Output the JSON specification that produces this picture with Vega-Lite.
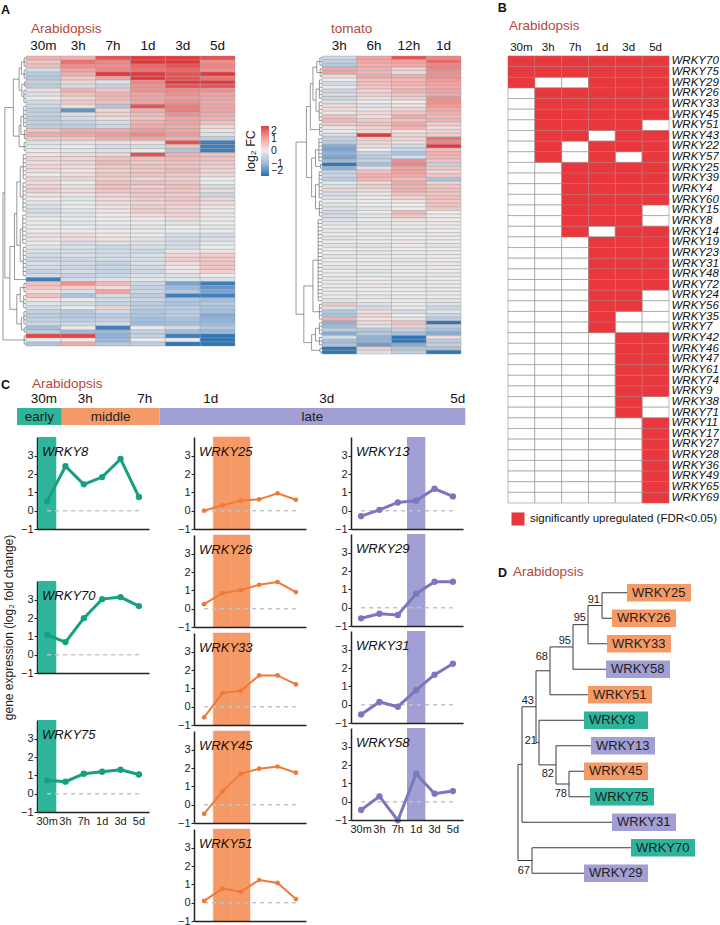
{
"$schema": "https://vega.github.io/schema/vega-lite/v6.json",
"padding": {"left": 1, "top": 2, "right": 0, "bottom": 0},
"config": {
  "font": "Liberation Sans",
  "view": {"stroke": null},
  "axis": {"labelColor": "#222", "titleColor": "#222", "domainColor": "#222", "tickColor": "#222", "grid": false, "titleFontWeight": "normal"},
  "title": {"color": "#111", "anchor": "start"}
},
"datasets": {
  "arab": [
    {"r":1,"lh":0.8,"30m":0.8,"3h":0.8,"7h":1.8,"1d":2.0,"3d":2.2,"5d":1.8},
    {"r":2,"lh":0.8,"30m":0.5,"3h":1.5,"7h":1.3,"1d":2.0,"3d":2.2,"5d":1.2},
    {"r":3,"lh":0.8,"30m":0.6,"3h":1.2,"7h":1.2,"1d":1.6,"3d":1.8,"5d":1.3},
    {"r":4,"lh":0.8,"30m":-0.3,"3h":1.0,"7h":1.3,"1d":1.5,"3d":1.6,"5d":1.2},
    {"r":5,"lh":0.8,"30m":-0.6,"3h":0.8,"7h":2.0,"1d":2.0,"3d":1.8,"5d":2.0},
    {"r":6,"lh":0.8,"30m":-0.7,"3h":0.5,"7h":1.0,"1d":2.0,"3d":1.8,"5d":1.5},
    {"r":7,"lh":0.6,"30m":-0.5,"3h":0.3,"7h":-0.2,"1d":1.3,"3d":2.0,"5d":2.0},
    {"r":8,"lh":0.6,"30m":-0.6,"3h":-0.3,"7h":-0.5,"1d":1.2,"3d":1.8,"5d":1.8},
    {"r":9,"lh":0.9,"30m":0.2,"3h":0.8,"7h":0.5,"1d":1.2,"3d":1.3,"5d":1.2},
    {"r":10,"lh":0.9,"30m":-0.2,"3h":0.6,"7h":0.8,"1d":1.0,"3d":1.2,"5d":1.0},
    {"r":11,"lh":0.9,"30m":0.0,"3h":0.3,"7h":0.7,"1d":1.0,"3d":1.1,"5d":1.0},
    {"r":12,"lh":0.9,"30m":-0.3,"3h":0.5,"7h":0.6,"1d":1.0,"3d":1.2,"5d":0.9},
    {"r":13,"lh":1.0,"30m":-0.4,"3h":0.2,"7h":-0.8,"1d":1.8,"3d":1.4,"5d":1.0},
    {"r":14,"lh":1.0,"30m":-0.6,"3h":-1.5,"7h":0.3,"1d":0.9,"3d":1.4,"5d":1.0},
    {"r":15,"lh":1.0,"30m":-0.5,"3h":-0.2,"7h":0.4,"1d":0.7,"3d":1.2,"5d":0.9},
    {"r":16,"lh":1.0,"30m":-0.6,"3h":-0.3,"7h":0.2,"1d":0.6,"3d":1.0,"5d":0.8},
    {"r":17,"lh":1.0,"30m":-0.5,"3h":-0.5,"7h":-0.3,"1d":0.8,"3d":1.0,"5d":0.6},
    {"r":18,"lh":1.0,"30m":-0.6,"3h":-0.6,"7h":-0.4,"1d":0.9,"3d":0.9,"5d":0.3},
    {"r":19,"lh":0.7,"30m":0.6,"3h":0.9,"7h":0.9,"1d":1.1,"3d":1.0,"5d":0.2},
    {"r":20,"lh":0.7,"30m":0.9,"3h":1.0,"7h":1.1,"1d":1.3,"3d":1.1,"5d":-0.2},
    {"r":21,"lh":0.7,"30m":0.5,"3h":0.6,"7h":0.9,"1d":1.0,"3d":0.8,"5d":-0.6},
    {"r":22,"lh":0.8,"30m":-0.2,"3h":0.2,"7h":0.2,"1d":0.2,"3d":1.8,"5d":-1.8},
    {"r":23,"lh":0.8,"30m":-0.1,"3h":0.0,"7h":-0.3,"1d":-0.3,"3d":0.6,"5d":-1.8},
    {"r":24,"lh":0.8,"30m":0.0,"3h":-0.1,"7h":-0.2,"1d":0.0,"3d":-0.8,"5d":-1.8},
    {"r":25,"lh":1.2,"30m":0.1,"3h":0.2,"7h":0.3,"1d":1.8,"3d":0.8,"5d":0.6},
    {"r":26,"lh":1.2,"30m":0.3,"3h":0.3,"7h":0.6,"1d":0.6,"3d":0.7,"5d":0.6},
    {"r":27,"lh":1.2,"30m":0.2,"3h":0.3,"7h":0.7,"1d":0.5,"3d":0.6,"5d":0.5},
    {"r":28,"lh":1.2,"30m":0.3,"3h":0.2,"7h":0.5,"1d":0.6,"3d":0.6,"5d":0.4},
    {"r":29,"lh":1.2,"30m":0.2,"3h":0.1,"7h":0.4,"1d":0.5,"3d":0.7,"5d":0.3},
    {"r":30,"lh":1.2,"30m":0.0,"3h":0.2,"7h":0.5,"1d":0.6,"3d":0.5,"5d":0.3},
    {"r":31,"lh":1.2,"30m":0.3,"3h":0.3,"7h":0.4,"1d":0.3,"3d":0.4,"5d":0.0},
    {"r":32,"lh":1.3,"30m":0.2,"3h":0.0,"7h":0.6,"1d":0.6,"3d":0.5,"5d":0.0},
    {"r":33,"lh":1.3,"30m":0.3,"3h":0.2,"7h":0.6,"1d":0.4,"3d":0.6,"5d":-0.3},
    {"r":34,"lh":1.3,"30m":0.4,"3h":0.2,"7h":0.5,"1d":0.5,"3d":0.5,"5d":0.2},
    {"r":35,"lh":1.3,"30m":0.1,"3h":0.1,"7h":0.3,"1d":0.5,"3d":0.4,"5d":-0.4},
    {"r":36,"lh":1.3,"30m":0.0,"3h":-0.1,"7h":0.2,"1d":0.4,"3d":0.5,"5d":0.3},
    {"r":37,"lh":1.3,"30m":-0.1,"3h":0.0,"7h":0.2,"1d":0.3,"3d":0.4,"5d":0.2},
    {"r":38,"lh":1.3,"30m":-0.2,"3h":0.0,"7h":0.1,"1d":0.4,"3d":0.3,"5d":0.1},
    {"r":39,"lh":1.3,"30m":-0.3,"3h":-0.1,"7h":0.1,"1d":0.4,"3d":0.3,"5d":0.0},
    {"r":40,"lh":1.4,"30m":-0.2,"3h":-0.1,"7h":0.0,"1d":0.2,"3d":0.3,"5d":0.1},
    {"r":41,"lh":1.4,"30m":0.0,"3h":0.0,"7h":0.0,"1d":0.0,"3d":0.2,"5d":0.0},
    {"r":42,"lh":1.4,"30m":0.0,"3h":-0.1,"7h":0.0,"1d":0.0,"3d":-0.1,"5d":0.0},
    {"r":43,"lh":1.4,"30m":0.0,"3h":0.0,"7h":-0.1,"1d":-0.1,"3d":0.0,"5d":-0.1},
    {"r":44,"lh":1.4,"30m":0.0,"3h":0.0,"7h":0.0,"1d":0.0,"3d":0.0,"5d":0.0},
    {"r":45,"lh":1.4,"30m":0.2,"3h":0.2,"7h":0.1,"1d":0.0,"3d":-0.3,"5d":-0.3},
    {"r":46,"lh":1.4,"30m":0.1,"3h":0.2,"7h":0.1,"1d":-0.1,"3d":-0.3,"5d":-0.2},
    {"r":47,"lh":1.4,"30m":0.0,"3h":-0.3,"7h":-0.2,"1d":-0.2,"3d":-0.3,"5d":-0.1},
    {"r":48,"lh":1.2,"30m":-0.1,"3h":-0.2,"7h":-0.4,"1d":-0.2,"3d":-0.3,"5d":0.0},
    {"r":49,"lh":1.2,"30m":-0.2,"3h":-0.3,"7h":-0.3,"1d":-0.4,"3d":0.1,"5d":0.1},
    {"r":50,"lh":1.2,"30m":-0.3,"3h":-0.2,"7h":-0.3,"1d":-0.2,"3d":0.3,"5d":0.4},
    {"r":51,"lh":1.2,"30m":-0.4,"3h":-0.4,"7h":-0.3,"1d":-0.3,"3d":0.4,"5d":0.5},
    {"r":52,"lh":1.2,"30m":-0.2,"3h":-0.3,"7h":-0.5,"1d":-0.2,"3d":0.2,"5d":0.5},
    {"r":53,"lh":1.2,"30m":-0.3,"3h":-0.4,"7h":-0.4,"1d":-0.3,"3d":0.0,"5d":0.5},
    {"r":54,"lh":1.2,"30m":-0.5,"3h":-0.3,"7h":-0.5,"1d":-0.4,"3d":0.1,"5d":0.4},
    {"r":55,"lh":1.2,"30m":-0.3,"3h":-0.5,"7h":-0.4,"1d":-0.2,"3d":-0.2,"5d":0.0},
    {"r":56,"lh":0,"30m":-1.8,"3h":-0.3,"7h":-0.2,"1d":-0.1,"3d":-0.1,"5d":-0.2},
    {"r":57,"lh":0.9,"30m":0.6,"3h":1.2,"7h":0.7,"1d":-0.4,"3d":-1.3,"5d":-1.8},
    {"r":58,"lh":0.9,"30m":0.5,"3h":0.4,"7h":0.2,"1d":-0.5,"3d":-1.0,"5d":-1.5},
    {"r":59,"lh":0.9,"30m":0.1,"3h":-0.2,"7h":1.0,"1d":-0.4,"3d":-0.7,"5d":-1.3},
    {"r":60,"lh":1.0,"30m":0.6,"3h":-0.8,"7h":-0.3,"1d":-0.6,"3d":-1.8,"5d":-1.8},
    {"r":61,"lh":1.0,"30m":0.1,"3h":0.0,"7h":-0.3,"1d":-0.4,"3d":-0.7,"5d":-0.9},
    {"r":62,"lh":1.0,"30m":-0.1,"3h":-0.3,"7h":-0.5,"1d":-0.6,"3d":-0.8,"5d":-0.7},
    {"r":63,"lh":1.0,"30m":-0.3,"3h":0.0,"7h":0.3,"1d":-0.6,"3d":-0.6,"5d":-0.8},
    {"r":64,"lh":0.9,"30m":-0.5,"3h":-0.7,"7h":-0.3,"1d":-0.7,"3d":-0.6,"5d":-0.9},
    {"r":65,"lh":0.9,"30m":-0.6,"3h":-0.7,"7h":-0.6,"1d":-0.8,"3d":-0.6,"5d":-1.2},
    {"r":66,"lh":0.9,"30m":-0.5,"3h":-0.6,"7h":-0.5,"1d":-0.9,"3d":-0.8,"5d":-1.1},
    {"r":67,"lh":0.9,"30m":-0.4,"3h":-0.4,"7h":-0.3,"1d":-1.0,"3d":-0.9,"5d":-1.0},
    {"r":68,"lh":0.8,"30m":-0.9,"3h":0.0,"7h":-1.8,"1d":0.0,"3d":-0.3,"5d":-0.7},
    {"r":69,"lh":0.8,"30m":-0.6,"3h":-1.0,"7h":-1.0,"1d":-0.5,"3d":-0.9,"5d":-1.0},
    {"r":70,"lh":0.8,"30m":1.9,"3h":1.9,"7h":-1.1,"1d":-0.5,"3d":-1.8,"5d":-1.9},
    {"r":71,"lh":0.8,"30m":0.0,"3h":0.0,"7h":-1.0,"1d":0.0,"3d":0.0,"5d":-1.9},
    {"r":72,"lh":0.8,"30m":-0.8,"3h":0.9,"7h":-0.7,"1d":-0.6,"3d":-1.9,"5d":-1.9}
  ],
  "arabTree": [
    {"h":0.8,"a":1,"b":3,"ha":0.8,"hb":0.8},
    {"h":0.8,"a":4,"b":6,"ha":0.8,"hb":0.8},
    {"h":0.6,"a":7,"b":8,"ha":0.6,"hb":0.6},
    {"h":0.9,"a":9,"b":12,"ha":0.9,"hb":0.9},
    {"h":1.0,"a":13,"b":18,"ha":1.0,"hb":1.0},
    {"h":0.7,"a":19,"b":21,"ha":0.7,"hb":0.7},
    {"h":0.8,"a":22,"b":24,"ha":0.8,"hb":0.8},
    {"h":1.2,"a":25,"b":31,"ha":1.2,"hb":1.2},
    {"h":1.3,"a":32,"b":39,"ha":1.3,"hb":1.3},
    {"h":1.4,"a":40,"b":47,"ha":1.4,"hb":1.4},
    {"h":1.2,"a":48,"b":55,"ha":1.2,"hb":1.2},
    {"h":0.9,"a":57,"b":59,"ha":0.9,"hb":0.9},
    {"h":1.0,"a":60,"b":63,"ha":1.0,"hb":1.0},
    {"h":0.9,"a":64,"b":67,"ha":0.9,"hb":0.9},
    {"h":0.8,"a":68,"b":69,"ha":0.8,"hb":0.8},
    {"h":0.8,"a":70,"b":72,"ha":0.8,"hb":0.8},
    {"h":2.0,"a":2,"b":5,"ha":0.8,"hb":0.8},
    {"h":1.8,"a":7.5,"b":10.5,"ha":0.6,"hb":0.9},
    {"h":3.0,"a":3.5,"b":9,"ha":2.0,"hb":1.8},
    {"h":2.2,"a":15.5,"b":20,"ha":1.0,"hb":0.7},
    {"h":3.0,"a":17.75,"b":23,"ha":2.2,"hb":0.8},
    {"h":5.5,"a":6.25,"b":20.4,"ha":3.0,"hb":3.0},
    {"h":2.5,"a":28,"b":35.5,"ha":1.2,"hb":1.3},
    {"h":2.5,"a":43.5,"b":51.5,"ha":1.4,"hb":1.2},
    {"h":4.0,"a":31.75,"b":47.5,"ha":2.5,"hb":2.5},
    {"h":5.0,"a":39.6,"b":56,"ha":4.0,"hb":0},
    {"h":2.5,"a":58,"b":61.5,"ha":0.9,"hb":1.0},
    {"h":2.0,"a":65.5,"b":68.5,"ha":0.9,"hb":0.8},
    {"h":4.0,"a":59.75,"b":67,"ha":2.5,"hb":2.0},
    {"h":7.0,"a":47.8,"b":63.4,"ha":5.0,"hb":4.0},
    {"h":9.2,"a":13.3,"b":55.6,"ha":5.5,"hb":7.0},
    {"h":10,"a":34.45,"b":71,"ha":9.2,"hb":0.8}
  ],
  "tom": [
    {"r":1,"lh":0.8,"3h":-0.4,"6h":1.0,"12h":1.8,"1d":1.3},
    {"r":2,"lh":0.8,"3h":-0.5,"6h":0.9,"12h":1.0,"1d":1.6},
    {"r":3,"lh":0.8,"3h":-0.7,"6h":0.8,"12h":0.9,"1d":1.3},
    {"r":4,"lh":0.7,"3h":0.9,"6h":0.8,"12h":0.4,"1d":1.3},
    {"r":5,"lh":0.7,"3h":1.0,"6h":0.7,"12h":0.2,"1d":1.2},
    {"r":6,"lh":0.7,"3h":0.2,"6h":0.9,"12h":0.8,"1d":1.2},
    {"r":7,"lh":1.0,"3h":0.0,"6h":0.6,"12h":0.7,"1d":1.1},
    {"r":8,"lh":1.0,"3h":-0.3,"6h":0.6,"12h":0.8,"1d":1.0},
    {"r":9,"lh":1.0,"3h":0.0,"6h":0.5,"12h":0.6,"1d":0.9},
    {"r":10,"lh":1.0,"3h":-0.4,"6h":0.3,"12h":0.8,"1d":1.0},
    {"r":11,"lh":1.0,"3h":-0.3,"6h":0.4,"12h":0.5,"1d":0.9},
    {"r":12,"lh":1.0,"3h":-0.4,"6h":0.2,"12h":0.4,"1d":1.2},
    {"r":13,"lh":1.1,"3h":-0.2,"6h":0.0,"12h":0.0,"1d":1.2},
    {"r":14,"lh":1.1,"3h":0.3,"6h":-0.2,"12h":0.2,"1d":1.1},
    {"r":15,"lh":1.1,"3h":0.2,"6h":0.1,"12h":0.3,"1d":0.9},
    {"r":16,"lh":1.1,"3h":0.1,"6h":0.3,"12h":0.5,"1d":0.8},
    {"r":17,"lh":1.1,"3h":0.6,"6h":0.2,"12h":0.9,"1d":0.7},
    {"r":18,"lh":1.1,"3h":0.7,"6h":0.4,"12h":0.6,"1d":0.8},
    {"r":19,"lh":0.9,"3h":0.5,"6h":0.6,"12h":0.9,"1d":0.4},
    {"r":20,"lh":0.9,"3h":0.1,"6h":0.3,"12h":0.8,"1d":0.2},
    {"r":21,"lh":0.9,"3h":0.0,"6h":0.2,"12h":0.1,"1d":0.3},
    {"r":22,"lh":0.9,"3h":-0.3,"6h":2.0,"12h":0.3,"1d":0.4},
    {"r":23,"lh":1.2,"3h":-0.5,"6h":0.4,"12h":0.3,"1d":1.5},
    {"r":24,"lh":1.2,"3h":-0.6,"6h":0.3,"12h":0.2,"1d":1.3},
    {"r":25,"lh":1.2,"3h":-1.2,"6h":0.2,"12h":-0.3,"1d":2.0},
    {"r":26,"lh":1.2,"3h":-1.3,"6h":0.0,"12h":-0.4,"1d":0.6},
    {"r":27,"lh":1.2,"3h":-1.1,"6h":-0.5,"12h":-0.8,"1d":0.8},
    {"r":28,"lh":1.2,"3h":-1.3,"6h":-0.6,"12h":-0.3,"1d":0.7},
    {"r":29,"lh":1.2,"3h":-1.0,"6h":-0.5,"12h":1.2,"1d":0.6},
    {"r":30,"lh":0.6,"3h":-1.9,"6h":-0.9,"12h":1.3,"1d":-0.5},
    {"r":31,"lh":0.6,"3h":-1.1,"6h":-0.2,"12h":1.0,"1d":0.5},
    {"r":32,"lh":1.1,"3h":-0.5,"6h":0.6,"12h":1.0,"1d":0.3},
    {"r":33,"lh":1.1,"3h":-0.4,"6h":0.8,"12h":0.9,"1d":0.5},
    {"r":34,"lh":1.1,"3h":-0.6,"6h":0.7,"12h":0.6,"1d":-0.8},
    {"r":35,"lh":1.1,"3h":-0.1,"6h":0.3,"12h":0.9,"1d":0.4},
    {"r":36,"lh":1.1,"3h":-0.2,"6h":0.4,"12h":0.8,"1d":0.5},
    {"r":37,"lh":1.1,"3h":0.3,"6h":0.2,"12h":0.8,"1d":0.6},
    {"r":38,"lh":1.1,"3h":-0.3,"6h":0.1,"12h":0.6,"1d":0.5},
    {"r":39,"lh":1.1,"3h":-0.2,"6h":0.0,"12h":0.3,"1d":0.6},
    {"r":40,"lh":1.0,"3h":0.0,"6h":0.0,"12h":0.1,"1d":0.5},
    {"r":41,"lh":1.0,"3h":-0.1,"6h":0.0,"12h":0.0,"1d":0.6},
    {"r":42,"lh":1.0,"3h":-0.2,"6h":-0.1,"12h":0.0,"1d":0.5},
    {"r":43,"lh":1.0,"3h":-0.4,"6h":0.0,"12h":0.7,"1d":0.0},
    {"r":44,"lh":1.0,"3h":-0.3,"6h":-0.1,"12h":0.5,"1d":0.0},
    {"r":45,"lh":1.5,"3h":-0.2,"6h":0.0,"12h":0.1,"1d":0.0},
    {"r":46,"lh":1.5,"3h":-0.1,"6h":-0.1,"12h":0.0,"1d":0.1},
    {"r":47,"lh":1.5,"3h":0.0,"6h":0.0,"12h":0.0,"1d":0.0},
    {"r":48,"lh":1.5,"3h":-0.1,"6h":0.0,"12h":-0.1,"1d":0.0},
    {"r":49,"lh":1.5,"3h":0.0,"6h":-0.1,"12h":0.0,"1d":0.1},
    {"r":50,"lh":1.5,"3h":-0.1,"6h":0.0,"12h":0.0,"1d":0.0},
    {"r":51,"lh":1.5,"3h":0.0,"6h":0.0,"12h":0.1,"1d":0.0},
    {"r":52,"lh":1.5,"3h":-0.1,"6h":-0.1,"12h":0.0,"1d":-0.1},
    {"r":53,"lh":1.5,"3h":0.0,"6h":0.0,"12h":0.0,"1d":0.0},
    {"r":54,"lh":1.5,"3h":0.0,"6h":0.1,"12h":0.0,"1d":0.0},
    {"r":55,"lh":1.5,"3h":-0.1,"6h":0.0,"12h":0.0,"1d":0.0},
    {"r":56,"lh":1.5,"3h":0.0,"6h":0.0,"12h":-0.1,"1d":0.0},
    {"r":57,"lh":1.5,"3h":0.0,"6h":0.0,"12h":0.0,"1d":0.1},
    {"r":58,"lh":1.5,"3h":-0.1,"6h":0.0,"12h":0.0,"1d":0.0},
    {"r":59,"lh":1.5,"3h":0.0,"6h":-0.1,"12h":0.0,"1d":0.0},
    {"r":60,"lh":1.5,"3h":0.0,"6h":0.0,"12h":0.0,"1d":-0.1},
    {"r":61,"lh":1.5,"3h":-0.1,"6h":0.0,"12h":0.1,"1d":0.0},
    {"r":62,"lh":1.5,"3h":0.0,"6h":0.0,"12h":0.0,"1d":0.0},
    {"r":63,"lh":1.5,"3h":0.0,"6h":0.1,"12h":0.0,"1d":0.0},
    {"r":64,"lh":1.5,"3h":-0.1,"6h":0.0,"12h":0.0,"1d":-0.1},
    {"r":65,"lh":1.5,"3h":0.0,"6h":0.0,"12h":0.0,"1d":0.0},
    {"r":66,"lh":1.5,"3h":0.0,"6h":-0.1,"12h":0.0,"1d":0.0},
    {"r":67,"lh":1.5,"3h":-0.1,"6h":0.0,"12h":0.0,"1d":-0.1},
    {"r":68,"lh":1.0,"3h":0.5,"6h":-0.2,"12h":0.0,"1d":-0.2},
    {"r":69,"lh":1.0,"3h":-0.2,"6h":-0.3,"12h":0.0,"1d":-0.4},
    {"r":70,"lh":1.0,"3h":-0.7,"6h":0.2,"12h":-0.3,"1d":-0.1},
    {"r":71,"lh":1.0,"3h":-0.8,"6h":0.3,"12h":0.0,"1d":-0.4},
    {"r":72,"lh":1.0,"3h":0.8,"6h":0.1,"12h":-0.1,"1d":-0.6},
    {"r":73,"lh":1.0,"3h":-1.1,"6h":0.3,"12h":0.6,"1d":-1.9},
    {"r":74,"lh":1.0,"3h":-1.0,"6h":-0.2,"12h":0.4,"1d":-0.6},
    {"r":75,"lh":1.0,"3h":-0.6,"6h":-0.7,"12h":-0.5,"1d":-0.9},
    {"r":76,"lh":1.0,"3h":-1.2,"6h":-0.7,"12h":-0.9,"1d":-1.2},
    {"r":77,"lh":1.0,"3h":-0.3,"6h":-1.1,"12h":-1.9,"1d":0.2},
    {"r":78,"lh":1.0,"3h":-0.9,"6h":-1.1,"12h":-1.9,"1d":-0.6},
    {"r":79,"lh":1.0,"3h":-0.8,"6h":-1.4,"12h":-1.2,"1d":-0.5},
    {"r":80,"lh":0.8,"3h":-1.9,"6h":0.4,"12h":-0.7,"1d":-0.8},
    {"r":81,"lh":0.8,"3h":-1.9,"6h":-0.2,"12h":-0.6,"1d":-1.9}
  ],
  "tomTree": [
    {"h":0.8,"a":1,"b":3,"ha":0.8,"hb":0.8},
    {"h":0.7,"a":4,"b":6,"ha":0.7,"hb":0.7},
    {"h":1.0,"a":7,"b":12,"ha":1.0,"hb":1.0},
    {"h":1.1,"a":13,"b":18,"ha":1.1,"hb":1.1},
    {"h":0.9,"a":19,"b":22,"ha":0.9,"hb":0.9},
    {"h":1.2,"a":23,"b":29,"ha":1.2,"hb":1.2},
    {"h":0.6,"a":30,"b":31,"ha":0.6,"hb":0.6},
    {"h":1.1,"a":32,"b":39,"ha":1.1,"hb":1.1},
    {"h":1.0,"a":40,"b":44,"ha":1.0,"hb":1.0},
    {"h":1.5,"a":45,"b":67,"ha":1.5,"hb":1.5},
    {"h":1.0,"a":68,"b":72,"ha":1.0,"hb":1.0},
    {"h":1.0,"a":73,"b":76,"ha":1.0,"hb":1.0},
    {"h":1.0,"a":77,"b":79,"ha":1.0,"hb":1.0},
    {"h":0.8,"a":80,"b":81,"ha":0.8,"hb":0.8},
    {"h":2.0,"a":2,"b":5,"ha":0.8,"hb":0.7},
    {"h":2.3,"a":9.5,"b":15.5,"ha":1.0,"hb":1.1},
    {"h":3.5,"a":3.5,"b":12.5,"ha":2.0,"hb":2.3},
    {"h":4.5,"a":8,"b":20.5,"ha":3.5,"hb":0.9},
    {"h":2.5,"a":26,"b":30.5,"ha":1.2,"hb":0.6},
    {"h":2.5,"a":35.5,"b":42,"ha":1.1,"hb":1.0},
    {"h":4.0,"a":28.25,"b":38.75,"ha":2.5,"hb":2.5},
    {"h":6.0,"a":14.25,"b":33.5,"ha":4.5,"hb":4.0},
    {"h":3.5,"a":56,"b":70,"ha":1.5,"hb":1.0},
    {"h":2.5,"a":74.5,"b":78,"ha":1.0,"hb":1.0},
    {"h":4.0,"a":76.25,"b":80.5,"ha":2.5,"hb":0.8},
    {"h":7.0,"a":63,"b":78.4,"ha":3.5,"hb":4.0},
    {"h":10,"a":23.9,"b":70.7,"ha":6.0,"hb":7.0}
  ],
  "sig": [
    {"g":"WRKY70","30m":1,"3h":1,"7h":1,"1d":1,"3d":1,"5d":1},
    {"g":"WRKY75","30m":1,"3h":1,"7h":1,"1d":1,"3d":1,"5d":1},
    {"g":"WRKY29","30m":1,"3h":0,"7h":0,"1d":1,"3d":1,"5d":1},
    {"g":"WRKY26","30m":0,"3h":1,"7h":1,"1d":1,"3d":1,"5d":1},
    {"g":"WRKY33","30m":0,"3h":1,"7h":1,"1d":1,"3d":1,"5d":1},
    {"g":"WRKY45","30m":0,"3h":1,"7h":1,"1d":1,"3d":1,"5d":1},
    {"g":"WRKY51","30m":0,"3h":1,"7h":1,"1d":1,"3d":1,"5d":0},
    {"g":"WRKY43","30m":0,"3h":1,"7h":1,"1d":0,"3d":1,"5d":1},
    {"g":"WRKY22","30m":0,"3h":1,"7h":0,"1d":1,"3d":1,"5d":1},
    {"g":"WRKY57","30m":0,"3h":1,"7h":0,"1d":1,"3d":0,"5d":1},
    {"g":"WRKY25","30m":0,"3h":0,"7h":1,"1d":1,"3d":1,"5d":1},
    {"g":"WRKY39","30m":0,"3h":0,"7h":1,"1d":1,"3d":1,"5d":1},
    {"g":"WRKY4","30m":0,"3h":0,"7h":1,"1d":1,"3d":1,"5d":1},
    {"g":"WRKY60","30m":0,"3h":0,"7h":1,"1d":1,"3d":1,"5d":1},
    {"g":"WRKY15","30m":0,"3h":0,"7h":1,"1d":1,"3d":1,"5d":0},
    {"g":"WRKY8","30m":0,"3h":0,"7h":1,"1d":1,"3d":1,"5d":0},
    {"g":"WRKY14","30m":0,"3h":0,"7h":1,"1d":0,"3d":1,"5d":1},
    {"g":"WRKY19","30m":0,"3h":0,"7h":0,"1d":1,"3d":1,"5d":1},
    {"g":"WRKY23","30m":0,"3h":0,"7h":0,"1d":1,"3d":1,"5d":1},
    {"g":"WRKY31","30m":0,"3h":0,"7h":0,"1d":1,"3d":1,"5d":1},
    {"g":"WRKY48","30m":0,"3h":0,"7h":0,"1d":1,"3d":1,"5d":1},
    {"g":"WRKY72","30m":0,"3h":0,"7h":0,"1d":1,"3d":1,"5d":1},
    {"g":"WRKY24","30m":0,"3h":0,"7h":0,"1d":1,"3d":1,"5d":0},
    {"g":"WRKY56","30m":0,"3h":0,"7h":0,"1d":1,"3d":1,"5d":0},
    {"g":"WRKY35","30m":0,"3h":0,"7h":0,"1d":1,"3d":0,"5d":0},
    {"g":"WRKY7","30m":0,"3h":0,"7h":0,"1d":1,"3d":0,"5d":0},
    {"g":"WRKY42","30m":0,"3h":0,"7h":0,"1d":0,"3d":1,"5d":1},
    {"g":"WRKY46","30m":0,"3h":0,"7h":0,"1d":0,"3d":1,"5d":1},
    {"g":"WRKY47","30m":0,"3h":0,"7h":0,"1d":0,"3d":1,"5d":1},
    {"g":"WRKY61","30m":0,"3h":0,"7h":0,"1d":0,"3d":1,"5d":1},
    {"g":"WRKY74","30m":0,"3h":0,"7h":0,"1d":0,"3d":1,"5d":1},
    {"g":"WRKY9","30m":0,"3h":0,"7h":0,"1d":0,"3d":1,"5d":1},
    {"g":"WRKY38","30m":0,"3h":0,"7h":0,"1d":0,"3d":1,"5d":0},
    {"g":"WRKY71","30m":0,"3h":0,"7h":0,"1d":0,"3d":1,"5d":0},
    {"g":"WRKY11","30m":0,"3h":0,"7h":0,"1d":0,"3d":0,"5d":1},
    {"g":"WRKY17","30m":0,"3h":0,"7h":0,"1d":0,"3d":0,"5d":1},
    {"g":"WRKY27","30m":0,"3h":0,"7h":0,"1d":0,"3d":0,"5d":1},
    {"g":"WRKY28","30m":0,"3h":0,"7h":0,"1d":0,"3d":0,"5d":1},
    {"g":"WRKY36","30m":0,"3h":0,"7h":0,"1d":0,"3d":0,"5d":1},
    {"g":"WRKY49","30m":0,"3h":0,"7h":0,"1d":0,"3d":0,"5d":1},
    {"g":"WRKY65","30m":0,"3h":0,"7h":0,"1d":0,"3d":0,"5d":1},
    {"g":"WRKY69","30m":0,"3h":0,"7h":0,"1d":0,"3d":0,"5d":1}
  ],
  "expr": [
    {"g":"WRKY8","t":"30m","v":0.51},{"g":"WRKY8","t":"3h","v":2.43},{"g":"WRKY8","t":"7h","v":1.44},{"g":"WRKY8","t":"1d","v":1.84},{"g":"WRKY8","t":"3d","v":2.83},{"g":"WRKY8","t":"5d","v":0.75},
    {"g":"WRKY70","t":"30m","v":1.08},{"g":"WRKY70","t":"3h","v":0.69},{"g":"WRKY70","t":"7h","v":2.0},{"g":"WRKY70","t":"1d","v":3.04},{"g":"WRKY70","t":"3d","v":3.15},{"g":"WRKY70","t":"5d","v":2.66},
    {"g":"WRKY75","t":"30m","v":0.73},{"g":"WRKY75","t":"3h","v":0.66},{"g":"WRKY75","t":"7h","v":1.09},{"g":"WRKY75","t":"1d","v":1.2},{"g":"WRKY75","t":"3d","v":1.31},{"g":"WRKY75","t":"5d","v":1.05},
    {"g":"WRKY25","t":"30m","v":0.0},{"g":"WRKY25","t":"3h","v":0.3},{"g":"WRKY25","t":"7h","v":0.55},{"g":"WRKY25","t":"1d","v":0.62},{"g":"WRKY25","t":"3d","v":0.95},{"g":"WRKY25","t":"5d","v":0.6},
    {"g":"WRKY26","t":"30m","v":0.25},{"g":"WRKY26","t":"3h","v":0.85},{"g":"WRKY26","t":"7h","v":1.02},{"g":"WRKY26","t":"1d","v":1.31},{"g":"WRKY26","t":"3d","v":1.46},{"g":"WRKY26","t":"5d","v":0.91},
    {"g":"WRKY33","t":"30m","v":-0.58},{"g":"WRKY33","t":"3h","v":0.75},{"g":"WRKY33","t":"7h","v":0.87},{"g":"WRKY33","t":"1d","v":1.71},{"g":"WRKY33","t":"3d","v":1.71},{"g":"WRKY33","t":"5d","v":1.22},
    {"g":"WRKY45","t":"30m","v":-0.5},{"g":"WRKY45","t":"3h","v":0.73},{"g":"WRKY45","t":"7h","v":1.69},{"g":"WRKY45","t":"1d","v":1.97},{"g":"WRKY45","t":"3d","v":2.09},{"g":"WRKY45","t":"5d","v":1.75},
    {"g":"WRKY51","t":"30m","v":0.1},{"g":"WRKY51","t":"3h","v":0.77},{"g":"WRKY51","t":"7h","v":0.6},{"g":"WRKY51","t":"1d","v":1.24},{"g":"WRKY51","t":"3d","v":1.08},{"g":"WRKY51","t":"5d","v":0.2},
    {"g":"WRKY13","t":"30m","v":-0.3},{"g":"WRKY13","t":"3h","v":0.05},{"g":"WRKY13","t":"7h","v":0.45},{"g":"WRKY13","t":"1d","v":0.55},{"g":"WRKY13","t":"3d","v":1.2},{"g":"WRKY13","t":"5d","v":0.78},
    {"g":"WRKY29","t":"30m","v":-0.58},{"g":"WRKY29","t":"3h","v":-0.33},{"g":"WRKY29","t":"7h","v":-0.4},{"g":"WRKY29","t":"1d","v":0.77},{"g":"WRKY29","t":"3d","v":1.42},{"g":"WRKY29","t":"5d","v":1.42},
    {"g":"WRKY31","t":"30m","v":-0.53},{"g":"WRKY31","t":"3h","v":0.15},{"g":"WRKY31","t":"7h","v":-0.11},{"g":"WRKY31","t":"1d","v":0.8},{"g":"WRKY31","t":"3d","v":1.64},{"g":"WRKY31","t":"5d","v":2.24},
    {"g":"WRKY58","t":"30m","v":-0.45},{"g":"WRKY58","t":"3h","v":0.29},{"g":"WRKY58","t":"7h","v":-1.02},{"g":"WRKY58","t":"1d","v":1.53},{"g":"WRKY58","t":"3d","v":0.44},{"g":"WRKY58","t":"5d","v":0.58}
  ],
  "phases": [
    {"phase":"early","from":0,"to":10.0},
    {"phase":"middle","from":10.0,"to":31.8},
    {"phase":"late","from":31.8,"to":100}
  ],
  "times": [
    {"t":"30m","pos":6.0},{"t":"3h","pos":15.2},{"t":"7h","pos":28.5},{"t":"1d","pos":43.2},{"t":"3d","pos":69.1},{"t":"5d","pos":98.3}
  ],
  "tree": [
    {"x":84,"x2":84,"y":1,"y2":2},
    {"x":70,"x2":70,"y":1.5,"y2":3},
    {"x":55,"x2":55,"y":2.25,"y2":4},
    {"x":32,"x2":32,"y":3.125,"y2":5},
    {"x":51,"x2":51,"y":8,"y2":9},
    {"x":38,"x2":38,"y":7,"y2":8.5},
    {"x":21,"x2":21,"y":6,"y2":7.75},
    {"x":18,"x2":18,"y":4.06,"y2":6.875},
    {"x":4,"x2":4,"y":5.47,"y2":10},
    {"x":14,"x2":14,"y":11,"y2":12},
    {"x":0,"x2":0,"y":7.73,"y2":11.5},
    {"x":84,"x2":109,"y":1,"y2":1},
    {"x":84,"x2":94,"y":2,"y2":2},
    {"x":70,"x2":84,"y":1.5,"y2":1.5},
    {"x":70,"x2":89,"y":3,"y2":3},
    {"x":55,"x2":70,"y":2.25,"y2":2.25},
    {"x":55,"x2":88,"y":4,"y2":4},
    {"x":32,"x2":55,"y":3.125,"y2":3.125},
    {"x":32,"x2":70,"y":5,"y2":5},
    {"x":18,"x2":32,"y":4.06,"y2":4.06},
    {"x":51,"x2":66,"y":8,"y2":8},
    {"x":51,"x2":72,"y":9,"y2":9},
    {"x":38,"x2":51,"y":8.5,"y2":8.5},
    {"x":38,"x2":73,"y":7,"y2":7},
    {"x":21,"x2":38,"y":7.75,"y2":7.75},
    {"x":21,"x2":66,"y":6,"y2":6},
    {"x":18,"x2":21,"y":6.875,"y2":6.875},
    {"x":4,"x2":18,"y":5.47,"y2":5.47},
    {"x":4,"x2":94,"y":10,"y2":10},
    {"x":14,"x2":113,"y":11,"y2":11},
    {"x":14,"x2":66,"y":12,"y2":12},
    {"x":0,"x2":4,"y":7.73,"y2":7.73},
    {"x":0,"x2":14,"y":11.5,"y2":11.5}
  ],
  "leaves": [
    {"g":"WRKY25","y":1,"e":109,"p":"middle"},
    {"g":"WRKY26","y":2,"e":94,"p":"middle"},
    {"g":"WRKY33","y":3,"e":89,"p":"middle"},
    {"g":"WRKY58","y":4,"e":88,"p":"late"},
    {"g":"WRKY51","y":5,"e":70,"p":"middle"},
    {"g":"WRKY8","y":6,"e":66,"p":"early"},
    {"g":"WRKY13","y":7,"e":73,"p":"late"},
    {"g":"WRKY45","y":8,"e":66,"p":"middle"},
    {"g":"WRKY75","y":9,"e":72,"p":"early"},
    {"g":"WRKY31","y":10,"e":94,"p":"late"},
    {"g":"WRKY70","y":11,"e":113,"p":"early"},
    {"g":"WRKY29","y":12,"e":66,"p":"late"}
  ],
  "nodes": [
    {"s":"91","x":84,"y":1.28},{"s":"95","x":70,"y":1.99},{"s":"95","x":55,"y":2.89},{"s":"68","x":32,"y":3.52},
    {"s":"43","x":18,"y":5.25},{"s":"21","x":21,"y":6.81},{"s":"82","x":38,"y":8.1},{"s":"78","x":51,"y":8.89},{"s":"67","x":14,"y":11.9}
  ]
},
"resolve": {"scale": {"color": "independent"}},
"spacing": 31,
"hconcat": [
 {
  "spacing": 21,
  "resolve": {"scale": {"color": "independent"}},
  "vconcat": [
   {
    "title": {"text": "A", "fontSize": 12.5, "fontWeight": "bold", "anchor": "start", "offset": 5},
    "spacing": 0,
    "resolve": {"scale": {"color": "independent"}},
    "hconcat": [
     {"width": 0.01, "height": 0.01, "data": {"values": []}, "mark": "point", "encoding": {}},
     {
      "spacing": 12,
      "resolve": {"scale": {"color": "independent"}},
      "hconcat": [
       {
        "width": 209, "height": 290,
        "title": {"text": "Arabidopsis", "fontSize": 13.5, "fontWeight": "normal", "color": "#b4483c", "anchor": "start", "frame": "group", "dx": 5, "offset": 3},
        "resolve": {"scale": {"x": "independent", "y": "independent"}},
        "layer": [
         {
          "data": {"name": "arab"},
          "transform": [{"fold": ["30m","3h","7h","1d","3d","5d"], "as": ["k","v"]}],
          "mark": {"type": "rect", "stroke": "#9a9a9a", "strokeWidth": 0.4},
          "encoding": {
            "x": {"field": "k", "type": "ordinal", "sort": ["30m","3h","7h","1d","3d","5d"], "scale": {"paddingInner": 0, "paddingOuter": 0}, "axis": {"orient": "top", "title": null, "ticks": false, "domain": false, "labelAngle": 0, "labelFontSize": 13.5, "labelPadding": 4, "labelColor": "#111"}},
            "y": {"field": "r", "type": "ordinal", "scale": {"paddingInner": 0, "paddingOuter": 0}, "axis": null},
            "color": {"field": "v", "type": "quantitative", "scale": {"domain": [-2,-1,0,1,2], "range": ["#1b6fb3","#9dbad9","#ebebeb","#f2a2a2","#e2383c"], "clamp": true},
              "legend": {"orient": "none", "legendX": 219, "legendY": 70, "title": "log₂ FC", "titleOrient": "left", "titleFontSize": 12.5, "titleFontWeight": "normal", "titleColor": "#222", "titlePadding": 3, "gradientLength": 50, "gradientThickness": 8, "gradientStrokeWidth": 0, "values": [-2,-1,0,1,2], "labelFontSize": 10.5, "labelOffset": 2, "labelColor": "#222", "labelOverlap": false, "direction": "vertical"}}
          }
         },
         {"data": {"name": "arab"}, "mark": {"type": "rule", "color": "#555", "strokeWidth": 0.6},
          "encoding": {"x": {"field": "lh", "type": "quantitative", "scale": {"domain": [-90.9, 0], "reverse": true, "nice": false, "zero": false}, "axis": null}, "x2": {"datum": 0},
                       "y": {"field": "r", "type": "quantitative", "scale": {"domain": [0.5, 72.5], "reverse": true, "nice": false, "zero": false}, "axis": null}}},
         {"data": {"name": "arabTree"}, "mark": {"type": "rule", "color": "#555", "strokeWidth": 0.6},
          "encoding": {"x": {"field": "h", "type": "quantitative", "scale": {"domain": [-90.9, 0], "reverse": true, "nice": false, "zero": false}, "axis": null},
                       "y": {"field": "a", "type": "quantitative", "scale": {"domain": [0.5, 72.5], "reverse": true, "nice": false, "zero": false}, "axis": null}, "y2": {"field": "b"}}},
         {"data": {"name": "arabTree"}, "mark": {"type": "rule", "color": "#555", "strokeWidth": 0.6},
          "encoding": {"x": {"field": "ha", "type": "quantitative", "scale": {"domain": [-90.9, 0], "reverse": true, "nice": false, "zero": false}, "axis": null}, "x2": {"field": "h"},
                       "y": {"field": "a", "type": "quantitative", "scale": {"domain": [0.5, 72.5], "reverse": true, "nice": false, "zero": false}, "axis": null}}},
         {"data": {"name": "arabTree"}, "mark": {"type": "rule", "color": "#555", "strokeWidth": 0.6},
          "encoding": {"x": {"field": "hb", "type": "quantitative", "scale": {"domain": [-90.9, 0], "reverse": true, "nice": false, "zero": false}, "axis": null}, "x2": {"field": "h"},
                       "y": {"field": "b", "type": "quantitative", "scale": {"domain": [0.5, 72.5], "reverse": true, "nice": false, "zero": false}, "axis": null}}}
        ]
       },
       {
        "width": 139, "height": 298,
        "title": {"text": "tomato", "fontSize": 13.5, "fontWeight": "normal", "color": "#b4483c", "anchor": "start", "frame": "group", "dx": 9, "offset": 3},
        "resolve": {"scale": {"x": "independent", "y": "independent"}},
        "layer": [
         {
          "data": {"name": "tom"},
          "transform": [{"fold": ["3h","6h","12h","1d"], "as": ["k","v"]}],
          "mark": {"type": "rect", "stroke": "#9a9a9a", "strokeWidth": 0.4},
          "encoding": {
            "x": {"field": "k", "type": "ordinal", "sort": ["3h","6h","12h","1d"], "scale": {"paddingInner": 0, "paddingOuter": 0}, "axis": {"orient": "top", "title": null, "ticks": false, "domain": false, "labelAngle": 0, "labelFontSize": 13.5, "labelPadding": 4, "labelColor": "#111"}},
            "y": {"field": "r", "type": "ordinal", "scale": {"paddingInner": 0, "paddingOuter": 0}, "axis": null},
            "color": {"field": "v", "type": "quantitative", "scale": {"domain": [-2,-1,0,1,2], "range": ["#1b6fb3","#9dbad9","#ebebeb","#f2a2a2","#e2383c"], "clamp": true}, "legend": null}
          }
         },
         {"data": {"name": "tom"}, "mark": {"type": "rule", "color": "#555", "strokeWidth": 0.6},
          "encoding": {"x": {"field": "lh", "type": "quantitative", "scale": {"domain": [-53.5, 0], "reverse": true, "nice": false, "zero": false}, "axis": null}, "x2": {"datum": 0},
                       "y": {"field": "r", "type": "quantitative", "scale": {"domain": [0.5, 81.5], "reverse": true, "nice": false, "zero": false}, "axis": null}}},
         {"data": {"name": "tomTree"}, "mark": {"type": "rule", "color": "#555", "strokeWidth": 0.6},
          "encoding": {"x": {"field": "h", "type": "quantitative", "scale": {"domain": [-53.5, 0], "reverse": true, "nice": false, "zero": false}, "axis": null},
                       "y": {"field": "a", "type": "quantitative", "scale": {"domain": [0.5, 81.5], "reverse": true, "nice": false, "zero": false}, "axis": null}, "y2": {"field": "b"}}},
         {"data": {"name": "tomTree"}, "mark": {"type": "rule", "color": "#555", "strokeWidth": 0.6},
          "encoding": {"x": {"field": "ha", "type": "quantitative", "scale": {"domain": [-53.5, 0], "reverse": true, "nice": false, "zero": false}, "axis": null}, "x2": {"field": "h"},
                       "y": {"field": "a", "type": "quantitative", "scale": {"domain": [0.5, 81.5], "reverse": true, "nice": false, "zero": false}, "axis": null}}},
         {"data": {"name": "tomTree"}, "mark": {"type": "rule", "color": "#555", "strokeWidth": 0.6},
          "encoding": {"x": {"field": "hb", "type": "quantitative", "scale": {"domain": [-53.5, 0], "reverse": true, "nice": false, "zero": false}, "axis": null}, "x2": {"field": "h"},
                       "y": {"field": "b", "type": "quantitative", "scale": {"domain": [0.5, 81.5], "reverse": true, "nice": false, "zero": false}, "axis": null}}}
        ]
       }
      ]
     }
    ]
   },
   {
    "title": {"text": "C", "fontSize": 12.5, "fontWeight": "bold", "anchor": "start", "offset": -14.5},
    "spacing": 0,
    "resolve": {"scale": {"color": "independent"}},
    "hconcat": [
     {"width": 0.01, "height": 0.01, "data": {"values": []}, "mark": "point", "encoding": {}},
     {
      "spacing": 11,
      "resolve": {"scale": {"color": "independent"}},
      "vconcat": [
       {
        "width": 428, "height": 17,
        "title": {"text": "Arabidopsis", "fontSize": 13.5, "fontWeight": "normal", "color": "#b4483c", "anchor": "start", "frame": "group", "dx": -5, "offset": 2},
        "layer": [
         {"data": {"name": "phases"}, "mark": {"type": "rect"},
          "encoding": {"x": {"field": "from", "type": "quantitative", "scale": {"domain": [4.46, 99.93], "nice": false, "zero": false}, "axis": null}, "x2": {"field": "to"},
                       "color": {"field": "phase", "type": "nominal", "scale": {"domain": ["early","middle","late"], "range": ["#2db49b","#f59a67","#a19fd4"]}, "legend": null}}},
         {"data": {"name": "phases"}, "transform": [{"fold": ["from","to"], "as": ["w","pos"]}, {"aggregate": [{"op": "mean", "field": "pos", "as": "mid"}], "groupby": ["phase"]}],
          "mark": {"type": "text", "fontSize": 13.5, "color": "#222"},
          "encoding": {"x": {"field": "mid", "type": "quantitative"}, "text": {"field": "phase", "type": "nominal"}}},
         {"data": {"name": "times"}, "mark": {"type": "text", "fontSize": 13.5, "dy": -17.5, "color": "#111"},
          "encoding": {"x": {"field": "pos", "type": "quantitative"}, "text": {"field": "t", "type": "nominal"}}}
        ]
       },
       {
        "spacing": 28,
        "hconcat": [
         {
          "spacing": 0,
          "vconcat": [
           {"width": 112, "height": 92,
            "encoding": {"x": {"field": "t", "type": "ordinal", "sort": ["30m","3h","7h","1d","3d","5d"], "scale": {"domain": ["30m","3h","7h","1d","3d","5d"], "paddingInner": 0, "paddingOuter": 0.05}, "axis": {"title": null, "labels": false, "ticks": false, "domainWidth": 1.5}}},
            "layer": [
             {"data": {"values": [{"t": "30m"}]}, "mark": {"type": "rect", "color": "#2db49b"}, "encoding": {}},
             {"data": {"name": "expr"}, "transform": [{"filter": "datum.g === 'WRKY8'"}], "mark": {"type": "line", "color": "#c4c4c4", "strokeDash": [4,4], "strokeWidth": 1.5}, "encoding": {"y": {"datum": 0, "type": "quantitative", "scale": {"domain": [-1, 4.03], "nice": false, "zero": false}, "axis": {"title": null, "values": [-1,0,1,2,3], "labelOverlap": false, "labelFlush": false, "tickSize": 3, "labelFontSize": 11, "labelPadding": 1, "domainWidth": 1.5}}}},
             {"data": {"name": "expr"}, "transform": [{"filter": "datum.g === 'WRKY8'"}], "mark": {"type": "line", "color": "#17a07f", "strokeWidth": 3, "point": {"filled": true, "size": 40, "color": "#17a07f"}},
              "encoding": {"y": {"field": "v", "type": "quantitative", "scale": {"domain": [-1, 4.03], "nice": false, "zero": false}, "axis": {"title": null, "values": [-1,0,1,2,3], "labelOverlap": false, "labelFlush": false, "tickSize": 3, "labelFontSize": 11, "labelPadding": 1, "domainWidth": 1.5}}}},
             {"data": {"name": "expr"}, "transform": [{"filter": "datum.g === 'WRKY8' && datum.t === '30m'"}], "mark": {"type": "text", "align": "left", "dx": -5, "fontSize": 13, "fontStyle": "italic", "color": "#111"}, "encoding": {"y": {"datum": 3.2, "type": "quantitative", "axis": {"title": null, "values": [-1,0,1,2,3], "labelOverlap": false, "labelFlush": false, "tickSize": 3, "labelFontSize": 11, "labelPadding": 1, "domainWidth": 1.5}}, "text": {"field": "g", "type": "nominal"}}}
            ]},
           {"width": 112, "height": 92,
            "encoding": {"x": {"field": "t", "type": "ordinal", "sort": ["30m","3h","7h","1d","3d","5d"], "scale": {"domain": ["30m","3h","7h","1d","3d","5d"], "paddingInner": 0, "paddingOuter": 0.05}, "axis": {"title": null, "labels": false, "ticks": false, "domainWidth": 1.5}}},
            "layer": [
             {"data": {"values": [{"t": "30m"}]}, "mark": {"type": "rect", "color": "#2db49b"}, "encoding": {}},
             {"data": {"name": "expr"}, "transform": [{"filter": "datum.g === 'WRKY70'"}], "mark": {"type": "line", "color": "#c4c4c4", "strokeDash": [4,4], "strokeWidth": 1.5}, "encoding": {"y": {"datum": 0, "type": "quantitative", "scale": {"domain": [-1, 4.03], "nice": false, "zero": false}, "axis": {"title": "gene expression (log₂ fold change)", "titleFontSize": 12, "titlePadding": 5, "values": [-1,0,1,2,3], "labelOverlap": false, "labelFlush": false, "tickSize": 3, "labelFontSize": 11, "labelPadding": 1, "domainWidth": 1.5}}}},
             {"data": {"name": "expr"}, "transform": [{"filter": "datum.g === 'WRKY70'"}], "mark": {"type": "line", "color": "#17a07f", "strokeWidth": 3, "point": {"filled": true, "size": 40, "color": "#17a07f"}},
              "encoding": {"y": {"field": "v", "type": "quantitative", "scale": {"domain": [-1, 4.03], "nice": false, "zero": false}, "axis": {"title": "gene expression (log₂ fold change)", "titleFontSize": 12, "titlePadding": 5, "values": [-1,0,1,2,3], "labelOverlap": false, "labelFlush": false, "tickSize": 3, "labelFontSize": 11, "labelPadding": 1, "domainWidth": 1.5}}}},
             {"data": {"name": "expr"}, "transform": [{"filter": "datum.g === 'WRKY70' && datum.t === '30m'"}], "mark": {"type": "text", "align": "left", "dx": -5, "fontSize": 13, "fontStyle": "italic", "color": "#111"}, "encoding": {"y": {"datum": 3.2, "type": "quantitative", "axis": {"title": "gene expression (log₂ fold change)", "titleFontSize": 12, "titlePadding": 5, "values": [-1,0,1,2,3], "labelOverlap": false, "labelFlush": false, "tickSize": 3, "labelFontSize": 11, "labelPadding": 1, "domainWidth": 1.5}}, "text": {"field": "g", "type": "nominal"}}}
            ]},
           {"width": 112, "height": 92,
            "encoding": {"x": {"field": "t", "type": "ordinal", "sort": ["30m","3h","7h","1d","3d","5d"], "scale": {"domain": ["30m","3h","7h","1d","3d","5d"], "paddingInner": 0, "paddingOuter": 0.05}, "axis": {"title": null, "labels": true, "ticks": false, "labelAngle": 0, "labelFontSize": 11, "labelPadding": 3, "domainWidth": 1.5}}},
            "layer": [
             {"data": {"values": [{"t": "30m"}]}, "mark": {"type": "rect", "color": "#2db49b"}, "encoding": {}},
             {"data": {"name": "expr"}, "transform": [{"filter": "datum.g === 'WRKY75'"}], "mark": {"type": "line", "color": "#c4c4c4", "strokeDash": [4,4], "strokeWidth": 1.5}, "encoding": {"y": {"datum": 0, "type": "quantitative", "scale": {"domain": [-1, 4.03], "nice": false, "zero": false}, "axis": {"title": null, "values": [-1,0,1,2,3], "labelOverlap": false, "labelFlush": false, "tickSize": 3, "labelFontSize": 11, "labelPadding": 1, "domainWidth": 1.5}}}},
             {"data": {"name": "expr"}, "transform": [{"filter": "datum.g === 'WRKY75'"}], "mark": {"type": "line", "color": "#17a07f", "strokeWidth": 3, "point": {"filled": true, "size": 40, "color": "#17a07f"}},
              "encoding": {"y": {"field": "v", "type": "quantitative", "scale": {"domain": [-1, 4.03], "nice": false, "zero": false}, "axis": {"title": null, "values": [-1,0,1,2,3], "labelOverlap": false, "labelFlush": false, "tickSize": 3, "labelFontSize": 11, "labelPadding": 1, "domainWidth": 1.5}}}},
             {"data": {"name": "expr"}, "transform": [{"filter": "datum.g === 'WRKY75' && datum.t === '30m'"}], "mark": {"type": "text", "align": "left", "dx": -5, "fontSize": 13, "fontStyle": "italic", "color": "#111"}, "encoding": {"y": {"datum": 3.2, "type": "quantitative", "axis": {"title": null, "values": [-1,0,1,2,3], "labelOverlap": false, "labelFlush": false, "tickSize": 3, "labelFontSize": 11, "labelPadding": 1, "domainWidth": 1.5}}, "text": {"field": "g", "type": "nominal"}}}
            ]}
          ]
         },
         {
          "spacing": 0,
          "vconcat": [
           {"width": 112, "height": 92,
            "encoding": {"x": {"field": "t", "type": "ordinal", "sort": ["30m","3h","7h","1d","3d","5d"], "scale": {"domain": ["30m","3h","7h","1d","3d","5d"], "paddingInner": 0, "paddingOuter": 0.05}, "axis": {"title": null, "labels": false, "ticks": false, "domainWidth": 1.5}}},
            "layer": [
             {"data": {"values": [{"t": "3h"},{"t": "7h"}]}, "mark": {"type": "rect", "color": "#f59a67", "stroke": "#f59a67", "strokeWidth": 0.5}, "encoding": {}},
             {"data": {"name": "expr"}, "transform": [{"filter": "datum.g === 'WRKY25'"}], "mark": {"type": "line", "color": "#c4c4c4", "strokeDash": [4,4], "strokeWidth": 1.5}, "encoding": {"y": {"datum": 0, "type": "quantitative", "scale": {"domain": [-1, 4.03], "nice": false, "zero": false}, "axis": {"title": null, "values": [-1,0,1,2,3], "labelOverlap": false, "labelFlush": false, "tickSize": 3, "labelFontSize": 11, "labelPadding": 1, "domainWidth": 1.5}}}},
             {"data": {"name": "expr"}, "transform": [{"filter": "datum.g === 'WRKY25'"}], "mark": {"type": "line", "color": "#ef7a38", "strokeWidth": 2, "point": {"filled": true, "size": 22, "color": "#ef7a38"}},
              "encoding": {"y": {"field": "v", "type": "quantitative", "scale": {"domain": [-1, 4.03], "nice": false, "zero": false}, "axis": {"title": null, "values": [-1,0,1,2,3], "labelOverlap": false, "labelFlush": false, "tickSize": 3, "labelFontSize": 11, "labelPadding": 1, "domainWidth": 1.5}}}},
             {"data": {"name": "expr"}, "transform": [{"filter": "datum.g === 'WRKY25' && datum.t === '30m'"}], "mark": {"type": "text", "align": "left", "dx": -5, "fontSize": 13, "fontStyle": "italic", "color": "#111"}, "encoding": {"y": {"datum": 3.2, "type": "quantitative", "axis": {"title": null, "values": [-1,0,1,2,3], "labelOverlap": false, "labelFlush": false, "tickSize": 3, "labelFontSize": 11, "labelPadding": 1, "domainWidth": 1.5}}, "text": {"field": "g", "type": "nominal"}}}
            ]},
           {"width": 112, "height": 92,
            "encoding": {"x": {"field": "t", "type": "ordinal", "sort": ["30m","3h","7h","1d","3d","5d"], "scale": {"domain": ["30m","3h","7h","1d","3d","5d"], "paddingInner": 0, "paddingOuter": 0.05}, "axis": {"title": null, "labels": false, "ticks": false, "domainWidth": 1.5}}},
            "layer": [
             {"data": {"values": [{"t": "3h"},{"t": "7h"}]}, "mark": {"type": "rect", "color": "#f59a67", "stroke": "#f59a67", "strokeWidth": 0.5}, "encoding": {}},
             {"data": {"name": "expr"}, "transform": [{"filter": "datum.g === 'WRKY26'"}], "mark": {"type": "line", "color": "#c4c4c4", "strokeDash": [4,4], "strokeWidth": 1.5}, "encoding": {"y": {"datum": 0, "type": "quantitative", "scale": {"domain": [-1, 4.03], "nice": false, "zero": false}, "axis": {"title": null, "values": [-1,0,1,2,3], "labelOverlap": false, "labelFlush": false, "tickSize": 3, "labelFontSize": 11, "labelPadding": 1, "domainWidth": 1.5}}}},
             {"data": {"name": "expr"}, "transform": [{"filter": "datum.g === 'WRKY26'"}], "mark": {"type": "line", "color": "#ef7a38", "strokeWidth": 2, "point": {"filled": true, "size": 22, "color": "#ef7a38"}},
              "encoding": {"y": {"field": "v", "type": "quantitative", "scale": {"domain": [-1, 4.03], "nice": false, "zero": false}, "axis": {"title": null, "values": [-1,0,1,2,3], "labelOverlap": false, "labelFlush": false, "tickSize": 3, "labelFontSize": 11, "labelPadding": 1, "domainWidth": 1.5}}}},
             {"data": {"name": "expr"}, "transform": [{"filter": "datum.g === 'WRKY26' && datum.t === '30m'"}], "mark": {"type": "text", "align": "left", "dx": -5, "fontSize": 13, "fontStyle": "italic", "color": "#111"}, "encoding": {"y": {"datum": 3.2, "type": "quantitative", "axis": {"title": null, "values": [-1,0,1,2,3], "labelOverlap": false, "labelFlush": false, "tickSize": 3, "labelFontSize": 11, "labelPadding": 1, "domainWidth": 1.5}}, "text": {"field": "g", "type": "nominal"}}}
            ]},
           {"width": 112, "height": 92,
            "encoding": {"x": {"field": "t", "type": "ordinal", "sort": ["30m","3h","7h","1d","3d","5d"], "scale": {"domain": ["30m","3h","7h","1d","3d","5d"], "paddingInner": 0, "paddingOuter": 0.05}, "axis": {"title": null, "labels": false, "ticks": false, "domainWidth": 1.5}}},
            "layer": [
             {"data": {"values": [{"t": "3h"},{"t": "7h"}]}, "mark": {"type": "rect", "color": "#f59a67", "stroke": "#f59a67", "strokeWidth": 0.5}, "encoding": {}},
             {"data": {"name": "expr"}, "transform": [{"filter": "datum.g === 'WRKY33'"}], "mark": {"type": "line", "color": "#c4c4c4", "strokeDash": [4,4], "strokeWidth": 1.5}, "encoding": {"y": {"datum": 0, "type": "quantitative", "scale": {"domain": [-1, 4.03], "nice": false, "zero": false}, "axis": {"title": null, "values": [-1,0,1,2,3], "labelOverlap": false, "labelFlush": false, "tickSize": 3, "labelFontSize": 11, "labelPadding": 1, "domainWidth": 1.5}}}},
             {"data": {"name": "expr"}, "transform": [{"filter": "datum.g === 'WRKY33'"}], "mark": {"type": "line", "color": "#ef7a38", "strokeWidth": 2, "point": {"filled": true, "size": 22, "color": "#ef7a38"}},
              "encoding": {"y": {"field": "v", "type": "quantitative", "scale": {"domain": [-1, 4.03], "nice": false, "zero": false}, "axis": {"title": null, "values": [-1,0,1,2,3], "labelOverlap": false, "labelFlush": false, "tickSize": 3, "labelFontSize": 11, "labelPadding": 1, "domainWidth": 1.5}}}},
             {"data": {"name": "expr"}, "transform": [{"filter": "datum.g === 'WRKY33' && datum.t === '30m'"}], "mark": {"type": "text", "align": "left", "dx": -5, "fontSize": 13, "fontStyle": "italic", "color": "#111"}, "encoding": {"y": {"datum": 3.2, "type": "quantitative", "axis": {"title": null, "values": [-1,0,1,2,3], "labelOverlap": false, "labelFlush": false, "tickSize": 3, "labelFontSize": 11, "labelPadding": 1, "domainWidth": 1.5}}, "text": {"field": "g", "type": "nominal"}}}
            ]},
           {"width": 112, "height": 92,
            "encoding": {"x": {"field": "t", "type": "ordinal", "sort": ["30m","3h","7h","1d","3d","5d"], "scale": {"domain": ["30m","3h","7h","1d","3d","5d"], "paddingInner": 0, "paddingOuter": 0.05}, "axis": {"title": null, "labels": false, "ticks": false, "domainWidth": 1.5}}},
            "layer": [
             {"data": {"values": [{"t": "3h"},{"t": "7h"}]}, "mark": {"type": "rect", "color": "#f59a67", "stroke": "#f59a67", "strokeWidth": 0.5}, "encoding": {}},
             {"data": {"name": "expr"}, "transform": [{"filter": "datum.g === 'WRKY45'"}], "mark": {"type": "line", "color": "#c4c4c4", "strokeDash": [4,4], "strokeWidth": 1.5}, "encoding": {"y": {"datum": 0, "type": "quantitative", "scale": {"domain": [-1, 4.03], "nice": false, "zero": false}, "axis": {"title": null, "values": [-1,0,1,2,3], "labelOverlap": false, "labelFlush": false, "tickSize": 3, "labelFontSize": 11, "labelPadding": 1, "domainWidth": 1.5}}}},
             {"data": {"name": "expr"}, "transform": [{"filter": "datum.g === 'WRKY45'"}], "mark": {"type": "line", "color": "#ef7a38", "strokeWidth": 2, "point": {"filled": true, "size": 22, "color": "#ef7a38"}},
              "encoding": {"y": {"field": "v", "type": "quantitative", "scale": {"domain": [-1, 4.03], "nice": false, "zero": false}, "axis": {"title": null, "values": [-1,0,1,2,3], "labelOverlap": false, "labelFlush": false, "tickSize": 3, "labelFontSize": 11, "labelPadding": 1, "domainWidth": 1.5}}}},
             {"data": {"name": "expr"}, "transform": [{"filter": "datum.g === 'WRKY45' && datum.t === '30m'"}], "mark": {"type": "text", "align": "left", "dx": -5, "fontSize": 13, "fontStyle": "italic", "color": "#111"}, "encoding": {"y": {"datum": 3.2, "type": "quantitative", "axis": {"title": null, "values": [-1,0,1,2,3], "labelOverlap": false, "labelFlush": false, "tickSize": 3, "labelFontSize": 11, "labelPadding": 1, "domainWidth": 1.5}}, "text": {"field": "g", "type": "nominal"}}}
            ]},
           {"width": 112, "height": 92,
            "encoding": {"x": {"field": "t", "type": "ordinal", "sort": ["30m","3h","7h","1d","3d","5d"], "scale": {"domain": ["30m","3h","7h","1d","3d","5d"], "paddingInner": 0, "paddingOuter": 0.05}, "axis": {"title": null, "labels": true, "ticks": false, "labelAngle": 0, "labelFontSize": 11, "labelPadding": 3, "domainWidth": 1.5}}},
            "layer": [
             {"data": {"values": [{"t": "3h"},{"t": "7h"}]}, "mark": {"type": "rect", "color": "#f59a67", "stroke": "#f59a67", "strokeWidth": 0.5}, "encoding": {}},
             {"data": {"name": "expr"}, "transform": [{"filter": "datum.g === 'WRKY51'"}], "mark": {"type": "line", "color": "#c4c4c4", "strokeDash": [4,4], "strokeWidth": 1.5}, "encoding": {"y": {"datum": 0, "type": "quantitative", "scale": {"domain": [-1, 4.03], "nice": false, "zero": false}, "axis": {"title": null, "values": [-1,0,1,2,3], "labelOverlap": false, "labelFlush": false, "tickSize": 3, "labelFontSize": 11, "labelPadding": 1, "domainWidth": 1.5}}}},
             {"data": {"name": "expr"}, "transform": [{"filter": "datum.g === 'WRKY51'"}], "mark": {"type": "line", "color": "#ef7a38", "strokeWidth": 2, "point": {"filled": true, "size": 22, "color": "#ef7a38"}},
              "encoding": {"y": {"field": "v", "type": "quantitative", "scale": {"domain": [-1, 4.03], "nice": false, "zero": false}, "axis": {"title": null, "values": [-1,0,1,2,3], "labelOverlap": false, "labelFlush": false, "tickSize": 3, "labelFontSize": 11, "labelPadding": 1, "domainWidth": 1.5}}}},
             {"data": {"name": "expr"}, "transform": [{"filter": "datum.g === 'WRKY51' && datum.t === '30m'"}], "mark": {"type": "text", "align": "left", "dx": -5, "fontSize": 13, "fontStyle": "italic", "color": "#111"}, "encoding": {"y": {"datum": 3.2, "type": "quantitative", "axis": {"title": null, "values": [-1,0,1,2,3], "labelOverlap": false, "labelFlush": false, "tickSize": 3, "labelFontSize": 11, "labelPadding": 1, "domainWidth": 1.5}}, "text": {"field": "g", "type": "nominal"}}}
            ]}
          ]
         },
         {
          "spacing": 0,
          "vconcat": [
           {"width": 112, "height": 92,
            "encoding": {"x": {"field": "t", "type": "ordinal", "sort": ["30m","3h","7h","1d","3d","5d"], "scale": {"domain": ["30m","3h","7h","1d","3d","5d"], "paddingInner": 0, "paddingOuter": 0.05}, "axis": {"title": null, "labels": false, "ticks": false, "domainWidth": 1.5}}},
            "layer": [
             {"data": {"values": [{"t": "1d"}]}, "mark": {"type": "rect", "color": "#a19fd4"}, "encoding": {}},
             {"data": {"name": "expr"}, "transform": [{"filter": "datum.g === 'WRKY13'"}], "mark": {"type": "line", "color": "#c4c4c4", "strokeDash": [4,4], "strokeWidth": 1.5}, "encoding": {"y": {"datum": 0, "type": "quantitative", "scale": {"domain": [-1, 4.03], "nice": false, "zero": false}, "axis": {"title": null, "values": [-1,0,1,2,3], "labelOverlap": false, "labelFlush": false, "tickSize": 3, "labelFontSize": 11, "labelPadding": 1, "domainWidth": 1.5}}}},
             {"data": {"name": "expr"}, "transform": [{"filter": "datum.g === 'WRKY13'"}], "mark": {"type": "line", "color": "#7b77bf", "strokeWidth": 3, "point": {"filled": true, "size": 40, "color": "#7b77bf"}},
              "encoding": {"y": {"field": "v", "type": "quantitative", "scale": {"domain": [-1, 4.03], "nice": false, "zero": false}, "axis": {"title": null, "values": [-1,0,1,2,3], "labelOverlap": false, "labelFlush": false, "tickSize": 3, "labelFontSize": 11, "labelPadding": 1, "domainWidth": 1.5}}}},
             {"data": {"name": "expr"}, "transform": [{"filter": "datum.g === 'WRKY13' && datum.t === '30m'"}], "mark": {"type": "text", "align": "left", "dx": -5, "fontSize": 13, "fontStyle": "italic", "color": "#111"}, "encoding": {"y": {"datum": 3.2, "type": "quantitative", "axis": {"title": null, "values": [-1,0,1,2,3], "labelOverlap": false, "labelFlush": false, "tickSize": 3, "labelFontSize": 11, "labelPadding": 1, "domainWidth": 1.5}}, "text": {"field": "g", "type": "nominal"}}}
            ]},
           {"width": 112, "height": 92,
            "encoding": {"x": {"field": "t", "type": "ordinal", "sort": ["30m","3h","7h","1d","3d","5d"], "scale": {"domain": ["30m","3h","7h","1d","3d","5d"], "paddingInner": 0, "paddingOuter": 0.05}, "axis": {"title": null, "labels": false, "ticks": false, "domainWidth": 1.5}}},
            "layer": [
             {"data": {"values": [{"t": "1d"}]}, "mark": {"type": "rect", "color": "#a19fd4"}, "encoding": {}},
             {"data": {"name": "expr"}, "transform": [{"filter": "datum.g === 'WRKY29'"}], "mark": {"type": "line", "color": "#c4c4c4", "strokeDash": [4,4], "strokeWidth": 1.5}, "encoding": {"y": {"datum": 0, "type": "quantitative", "scale": {"domain": [-1, 4.03], "nice": false, "zero": false}, "axis": {"title": null, "values": [-1,0,1,2,3], "labelOverlap": false, "labelFlush": false, "tickSize": 3, "labelFontSize": 11, "labelPadding": 1, "domainWidth": 1.5}}}},
             {"data": {"name": "expr"}, "transform": [{"filter": "datum.g === 'WRKY29'"}], "mark": {"type": "line", "color": "#7b77bf", "strokeWidth": 3, "point": {"filled": true, "size": 40, "color": "#7b77bf"}},
              "encoding": {"y": {"field": "v", "type": "quantitative", "scale": {"domain": [-1, 4.03], "nice": false, "zero": false}, "axis": {"title": null, "values": [-1,0,1,2,3], "labelOverlap": false, "labelFlush": false, "tickSize": 3, "labelFontSize": 11, "labelPadding": 1, "domainWidth": 1.5}}}},
             {"data": {"name": "expr"}, "transform": [{"filter": "datum.g === 'WRKY29' && datum.t === '30m'"}], "mark": {"type": "text", "align": "left", "dx": -5, "fontSize": 13, "fontStyle": "italic", "color": "#111"}, "encoding": {"y": {"datum": 3.2, "type": "quantitative", "axis": {"title": null, "values": [-1,0,1,2,3], "labelOverlap": false, "labelFlush": false, "tickSize": 3, "labelFontSize": 11, "labelPadding": 1, "domainWidth": 1.5}}, "text": {"field": "g", "type": "nominal"}}}
            ]},
           {"width": 112, "height": 92,
            "encoding": {"x": {"field": "t", "type": "ordinal", "sort": ["30m","3h","7h","1d","3d","5d"], "scale": {"domain": ["30m","3h","7h","1d","3d","5d"], "paddingInner": 0, "paddingOuter": 0.05}, "axis": {"title": null, "labels": false, "ticks": false, "domainWidth": 1.5}}},
            "layer": [
             {"data": {"values": [{"t": "1d"}]}, "mark": {"type": "rect", "color": "#a19fd4"}, "encoding": {}},
             {"data": {"name": "expr"}, "transform": [{"filter": "datum.g === 'WRKY31'"}], "mark": {"type": "line", "color": "#c4c4c4", "strokeDash": [4,4], "strokeWidth": 1.5}, "encoding": {"y": {"datum": 0, "type": "quantitative", "scale": {"domain": [-1, 4.03], "nice": false, "zero": false}, "axis": {"title": null, "values": [-1,0,1,2,3], "labelOverlap": false, "labelFlush": false, "tickSize": 3, "labelFontSize": 11, "labelPadding": 1, "domainWidth": 1.5}}}},
             {"data": {"name": "expr"}, "transform": [{"filter": "datum.g === 'WRKY31'"}], "mark": {"type": "line", "color": "#7b77bf", "strokeWidth": 3, "point": {"filled": true, "size": 40, "color": "#7b77bf"}},
              "encoding": {"y": {"field": "v", "type": "quantitative", "scale": {"domain": [-1, 4.03], "nice": false, "zero": false}, "axis": {"title": null, "values": [-1,0,1,2,3], "labelOverlap": false, "labelFlush": false, "tickSize": 3, "labelFontSize": 11, "labelPadding": 1, "domainWidth": 1.5}}}},
             {"data": {"name": "expr"}, "transform": [{"filter": "datum.g === 'WRKY31' && datum.t === '30m'"}], "mark": {"type": "text", "align": "left", "dx": -5, "fontSize": 13, "fontStyle": "italic", "color": "#111"}, "encoding": {"y": {"datum": 3.2, "type": "quantitative", "axis": {"title": null, "values": [-1,0,1,2,3], "labelOverlap": false, "labelFlush": false, "tickSize": 3, "labelFontSize": 11, "labelPadding": 1, "domainWidth": 1.5}}, "text": {"field": "g", "type": "nominal"}}}
            ]},
           {"width": 112, "height": 92,
            "encoding": {"x": {"field": "t", "type": "ordinal", "sort": ["30m","3h","7h","1d","3d","5d"], "scale": {"domain": ["30m","3h","7h","1d","3d","5d"], "paddingInner": 0, "paddingOuter": 0.05}, "axis": {"title": null, "labels": true, "ticks": false, "labelAngle": 0, "labelFontSize": 11, "labelPadding": 3, "domainWidth": 1.5}}},
            "layer": [
             {"data": {"values": [{"t": "1d"}]}, "mark": {"type": "rect", "color": "#a19fd4"}, "encoding": {}},
             {"data": {"name": "expr"}, "transform": [{"filter": "datum.g === 'WRKY58'"}], "mark": {"type": "line", "color": "#c4c4c4", "strokeDash": [4,4], "strokeWidth": 1.5}, "encoding": {"y": {"datum": 0, "type": "quantitative", "scale": {"domain": [-1, 4.03], "nice": false, "zero": false}, "axis": {"title": null, "values": [-1,0,1,2,3], "labelOverlap": false, "labelFlush": false, "tickSize": 3, "labelFontSize": 11, "labelPadding": 1, "domainWidth": 1.5}}}},
             {"data": {"name": "expr"}, "transform": [{"filter": "datum.g === 'WRKY58'"}], "mark": {"type": "line", "color": "#7b77bf", "strokeWidth": 3, "point": {"filled": true, "size": 40, "color": "#7b77bf"}},
              "encoding": {"y": {"field": "v", "type": "quantitative", "scale": {"domain": [-1, 4.03], "nice": false, "zero": false}, "axis": {"title": null, "values": [-1,0,1,2,3], "labelOverlap": false, "labelFlush": false, "tickSize": 3, "labelFontSize": 11, "labelPadding": 1, "domainWidth": 1.5}}}},
             {"data": {"name": "expr"}, "transform": [{"filter": "datum.g === 'WRKY58' && datum.t === '30m'"}], "mark": {"type": "text", "align": "left", "dx": -5, "fontSize": 13, "fontStyle": "italic", "color": "#111"}, "encoding": {"y": {"datum": 3.2, "type": "quantitative", "axis": {"title": null, "values": [-1,0,1,2,3], "labelOverlap": false, "labelFlush": false, "tickSize": 3, "labelFontSize": 11, "labelPadding": 1, "domainWidth": 1.5}}, "text": {"field": "g", "type": "nominal"}}}
            ]}
          ]
         }
        ]
       }
      ]
     }
    ]
   }
  ]
 },
 {
  "spacing": 38,
  "resolve": {"scale": {"color": "independent"}},
  "vconcat": [
   {
    "title": {"text": "B", "fontSize": 12.5, "fontWeight": "bold", "anchor": "start", "dx": -10, "offset": 4},
    "resolve": {"scale": {"color": "independent"}},
    "vconcat": [
     {
      "width": 161, "height": 447,
      "title": {"text": "Arabidopsis", "fontSize": 13.5, "fontWeight": "normal", "color": "#b4483c", "anchor": "start", "frame": "group", "dx": 1, "offset": 9},
      "data": {"name": "sig"},
      "transform": [{"fold": ["30m","3h","7h","1d","3d","5d"], "as": ["k","s"]}],
      "encoding": {
        "x": {"field": "k", "type": "ordinal", "sort": ["30m","3h","7h","1d","3d","5d"], "scale": {"paddingInner": 0, "paddingOuter": 0}, "axis": {"orient": "top", "title": null, "ticks": false, "domain": false, "labelAngle": 0, "labelFontSize": 11.5, "labelPadding": 4, "labelColor": "#111"}},
        "y": {"field": "g", "type": "nominal", "sort": ["WRKY70","WRKY75","WRKY29","WRKY26","WRKY33","WRKY45","WRKY51","WRKY43","WRKY22","WRKY57","WRKY25","WRKY39","WRKY4","WRKY60","WRKY15","WRKY8","WRKY14","WRKY19","WRKY23","WRKY31","WRKY48","WRKY72","WRKY24","WRKY56","WRKY35","WRKY7","WRKY42","WRKY46","WRKY47","WRKY61","WRKY74","WRKY9","WRKY38","WRKY71","WRKY11","WRKY17","WRKY27","WRKY28","WRKY36","WRKY49","WRKY65","WRKY69"], "scale": {"paddingInner": 0, "paddingOuter": 0}, "axis": {"orient": "right", "title": null, "ticks": false, "domain": false, "labelFontSize": 11.5, "labelFontStyle": "italic", "labelPadding": 2, "labelColor": "#111"}}
      },
      "layer": [
        {"mark": {"type": "rect", "fill": "white", "stroke": "#8f8f8f", "strokeWidth": 0.6}, "encoding": {}},
        {"transform": [{"filter": "datum.s == 1"}], "mark": {"type": "rect", "stroke": "#a0a0a0", "strokeWidth": 0.4, "strokeOpacity": 0.6},
         "encoding": {"color": {"datum": "significantly upregulated (FDR<0.05)", "type": "nominal", "scale": {"range": ["#e8383d"]},
           "legend": {"orient": "none", "legendX": 3, "legendY": 456, "direction": "horizontal", "title": null, "symbolType": "square", "symbolSize": 170, "symbolStrokeWidth": 0, "labelFontSize": 11.5, "labelLimit": 300, "labelColor": "#111", "padding": 0, "labelOffset": 5}}}}
      ]
     }
    ]
   },
   {
    "title": {"text": "D", "fontSize": 12.5, "fontWeight": "bold", "anchor": "start", "dx": -10, "offset": -14.5},
    "resolve": {"scale": {"color": "independent"}},
    "vconcat": [
     {
      "width": 180, "height": 306,
      "title": {"text": "Arabidopsis", "fontSize": 13.5, "fontWeight": "normal", "color": "#b4483c", "anchor": "start", "frame": "group", "dx": 5, "offset": 2},
      "layer": [
        {"data": {"name": "tree"}, "mark": {"type": "rule", "color": "#3a3a3a", "strokeWidth": 1},
         "encoding": {"x": {"field": "x", "type": "quantitative", "scale": {"domain": [-10, 170], "nice": false, "zero": false}, "axis": null}, "x2": {"field": "x2"},
                      "y": {"field": "y", "type": "quantitative", "scale": {"domain": [0.5, 12.5], "reverse": true, "nice": false, "zero": false}, "axis": null}, "y2": {"field": "y2"}}},
        {"data": {"name": "leaves"}, "mark": {"type": "point", "shape": "M0,-0.27L2,-0.27L2,0.27L0,0.27Z", "size": 4096, "filled": true, "opacity": 1},
         "encoding": {"x": {"field": "e", "type": "quantitative"}, "y": {"field": "y", "type": "quantitative"},
                      "color": {"field": "p", "type": "nominal", "scale": {"domain": ["early","middle","late"], "range": ["#2db49b","#f59a67","#a19fd4"]}, "legend": null}}},
        {"data": {"name": "leaves"}, "mark": {"type": "text", "align": "left", "dx": 5, "fontSize": 13, "color": "#1e1e1e"},
         "encoding": {"x": {"field": "e", "type": "quantitative"}, "y": {"field": "y", "type": "quantitative"}, "text": {"field": "g", "type": "nominal"}}},
        {"data": {"name": "nodes"}, "mark": {"type": "text", "align": "right", "dx": -2, "fontSize": 11, "color": "#222"},
         "encoding": {"x": {"field": "x", "type": "quantitative"}, "y": {"field": "y", "type": "quantitative"}, "text": {"field": "s", "type": "nominal"}}}
      ]
     }
    ]
   }
  ]
 }
]
}
